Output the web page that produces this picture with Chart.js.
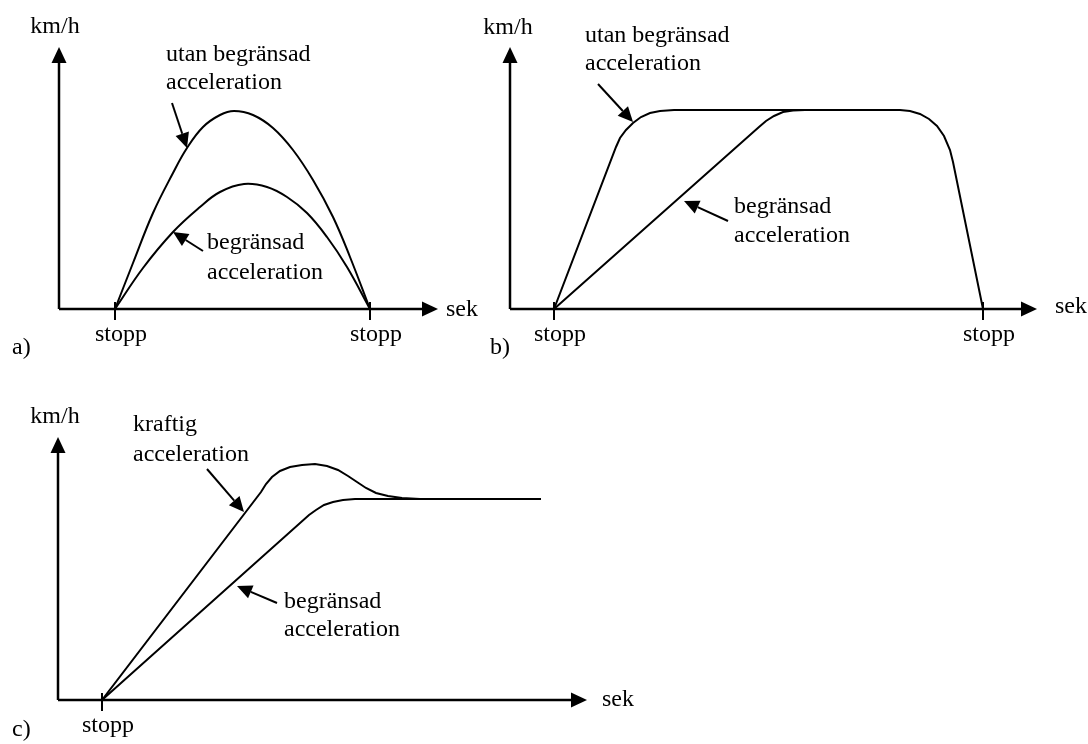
<!DOCTYPE html>
<html>
<head>
<meta charset="utf-8">
<script src="https://cdn.jsdelivr.net/npm/chart.js@4.4.1/dist/chart.umd.min.js"></script>
<style>
  body { margin: 0; background: #fff; width: 1088px; height: 744px; position: relative; overflow: hidden; }
  canvas { position: absolute; }
</style>
</head>
<body>
<canvas id="chartA" width="480" height="370" style="left:0;top:0"></canvas>
<canvas id="chartB" width="608" height="370" style="left:480px;top:0"></canvas>
<canvas id="chartC" width="680" height="364" style="left:0;top:380px"></canvas>
<script>
// ---- data (arbitrary units, origin = where the axes meet) ----

// a) stop - go - stop
const aFreeX = [56, 74, 94, 114, 128, 144, 161, 175, 194, 214, 234, 254, 274, 291, 311];
const aFreeY = [0, 46, 96, 136, 161, 182, 194, 198, 194, 181, 159, 129, 92, 52, 0];
const aLimX = [56, 84, 114, 141, 161, 185, 208, 228, 248, 268, 288, 311];
const aLimY = [0, 41, 77, 102, 117, 125, 122, 112, 96, 72, 42, 0];
const aStops = [56, 311];

// b) stop - cruise - stop
const bFreeX = [44, 106, 110, 116, 123, 131, 140, 150, 164, 390, 400, 410, 419, 427, 434, 440, 443, 473];
const bFreeY = [0, 162, 171, 179, 186, 192, 196, 198, 199, 199, 198, 195, 190, 183, 173, 159, 147, 0];
const bLimX = [44, 249, 256, 264, 273, 283, 295, 330];
const bLimY = [0, 182, 188, 193, 197, 198.5, 199, 199];
const bStops = [44, 473];

// c) stop - cruise
const cFreeX = [44, 203, 208, 214, 222, 232, 244, 257, 269, 280, 290, 299, 308, 318, 330, 344, 362, 382, 483];
const cFreeY = [0, 208, 216, 223, 229, 233, 235, 236, 234, 230, 224, 218, 212, 207, 204, 202, 201, 201, 201];
const cLimX = [44, 251, 258, 266, 275, 285, 297, 483];
const cLimY = [0, 185, 190, 195, 198, 200, 201, 201];
const cStops = [44];

// ---- labels & pointer arrows (placed in data units) ----
const aNotes = [
  ['km/h', -4, 282, 'center'],
  ['utan begränsad', 107, 254, 'left'],
  ['acceleration', 107, 226, 'left'],
  ['begränsad', 148, 66, 'left'],
  ['acceleration', 148, 36, 'left'],
  ['sek', 387, -1, 'left'],
  ['a)', -47, -39, 'left']
];
const aArrows = [[113, 206, 128, 161], [144, 58, 114, 77]];

const bNotes = [
  ['km/h', -2, 281, 'center'],
  ['utan begränsad', 75, 273, 'left'],
  ['acceleration', 75, 245, 'left'],
  ['begränsad', 224, 102, 'left'],
  ['acceleration', 224, 73, 'left'],
  ['sek', 545, 2, 'left'],
  ['b)', -20, -39, 'left']
];
const bArrows = [[88, 225, 123, 187], [218, 88, 174, 108]];

const cNotes = [
  ['km/h', -3, 283, 'center'],
  ['kraftig', 75, 275, 'left'],
  ['acceleration', 75, 245, 'left'],
  ['begränsad', 226, 98, 'left'],
  ['acceleration', 226, 70, 'left'],
  ['sek', 544, 0, 'left'],
  ['c)', -46, -30, 'left']
];
const cArrows = [[149, 231, 186, 188], [219, 97, 179, 114]];

const FONT = '24px "Liberation Serif", "DejaVu Serif", serif';

function pointer(ctx, x1, y1, x2, y2, len, half) {
  const ang = Math.atan2(y2 - y1, x2 - x1);
  const bx = x2 - len * Math.cos(ang), by = y2 - len * Math.sin(ang);
  ctx.beginPath();
  ctx.moveTo(x1, y1);
  ctx.lineTo(bx, by);
  ctx.stroke();
  ctx.beginPath();
  ctx.moveTo(x2, y2);
  ctx.lineTo(bx + half * Math.sin(ang), by - half * Math.cos(ang));
  ctx.lineTo(bx - half * Math.sin(ang), by + half * Math.cos(ang));
  ctx.closePath();
  ctx.fill();
}

// draws the axes with arrow heads, the stopp ticks and the annotations
const sketch = {
  id: 'sketch',
  afterDatasetsDraw(chart, args, opts) {
    const ctx = chart.ctx;
    const x = chart.scales.x, y = chart.scales.y;
    const px = v => x.getPixelForValue(v);
    const py = v => y.getPixelForValue(v);
    const x0 = px(0), y0 = py(0), xEnd = px(x.max), yEnd = py(y.max);
    ctx.save();
    ctx.strokeStyle = '#000';
    ctx.fillStyle = '#000';

    // axes
    ctx.lineWidth = 2.5;
    pointer(ctx, x0, y0, x0, yEnd, 16, 7.5);
    pointer(ctx, x0, y0, xEnd, y0, 16, 7.5);

    // stop ticks
    ctx.lineWidth = 2;
    ctx.font = FONT;
    ctx.textBaseline = 'middle';
    ctx.textAlign = 'center';
    opts.stops.forEach(s => {
      ctx.beginPath();
      ctx.moveTo(px(s), py(7));
      ctx.lineTo(px(s), py(-11));
      ctx.stroke();
      ctx.fillText('stopp', px(s) + 6, py(-26));
    });

    // text
    opts.notes.forEach(n => {
      ctx.textAlign = n[3];
      ctx.fillText(n[0], px(n[1]), py(n[2]));
    });

    // pointer arrows
    ctx.lineWidth = 2;
    opts.arrows.forEach(a => pointer(ctx, px(a[0]), py(a[1]), px(a[2]), py(a[3]), 15, 7));
    ctx.restore();
  }
};

function pts(xs, ys) {
  return xs.map((v, i) => ({ x: v, y: ys[i] }));
}

function makePanel(id, series, xMax, yMax, pad, tension, extras) {
  return new Chart(document.getElementById(id), {
    type: 'line',
    data: {
      datasets: series.map(s => ({
        data: s,
        borderColor: '#000',
        borderWidth: 2,
        pointRadius: 0,
        fill: false,
        tension: tension
      }))
    },
    options: {
      responsive: false,
      animation: false,
      devicePixelRatio: 1,
      layout: { padding: pad },
      scales: {
        x: { type: 'linear', min: 0, max: xMax, display: false },
        y: { type: 'linear', min: 0, max: yMax, display: false }
      },
      plugins: {
        legend: { display: false },
        tooltip: { enabled: false },
        sketch: extras
      }
    },
    plugins: [sketch]
  });
}

document.addEventListener('DOMContentLoaded', function() {
  makePanel('chartA', [pts(aFreeX, aFreeY), pts(aLimX, aLimY)], 379, 262,
    { left: 59, top: 47, right: 42, bottom: 61 }, 0.4,
    { stops: aStops, notes: aNotes, arrows: aArrows });

  makePanel('chartB', [pts(bFreeX, bFreeY), pts(bLimX, bLimY)], 527, 262,
    { left: 30, top: 47, right: 51, bottom: 61 }, 0,
    { stops: bStops, notes: bNotes, arrows: bArrows });

  makePanel('chartC', [pts(cFreeX, cFreeY), pts(cLimX, cLimY)], 529, 263,
    { left: 58, top: 57, right: 93, bottom: 44 }, 0,
    { stops: cStops, notes: cNotes, arrows: cArrows });
});
</script>
</body>
</html>
